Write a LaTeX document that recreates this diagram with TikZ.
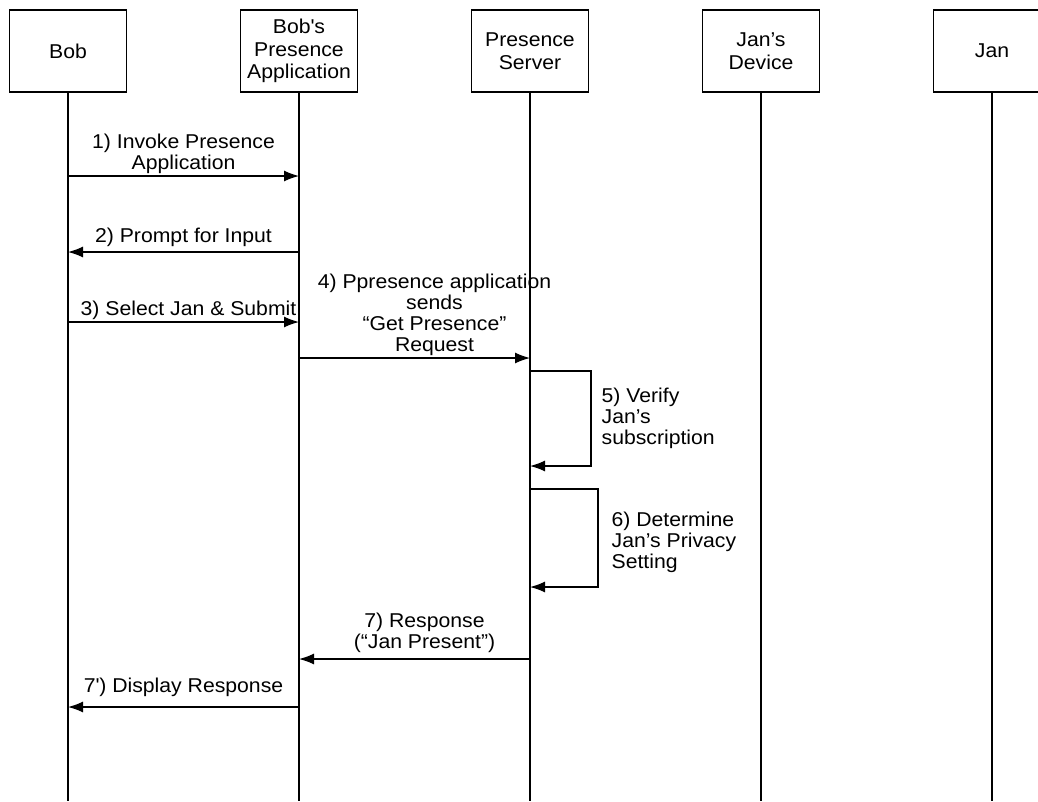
\documentclass[tikz,border=0pt]{standalone}
\usepackage{fontspec}
\setmainfont{Liberation Sans}[FakeStretch=1.06]
\usetikzlibrary{arrows.meta}
\tikzstyle{line} = [draw, line width=1.3pt, -{Latex[length=15pt,width=11pt]}]
\tikzstyle{life} = [draw, line width=1.3pt]
\tikzstyle{head} = [rectangle, draw, line width=1.3pt, minimum width=115pt, minimum height=82pt, text width=110pt, align=center, node distance=231pt, font=\fontsize{20}{22.5}\selectfont]
\tikzstyle{msg} = [align=center, inner sep=2pt, font=\fontsize{20}{21}\selectfont]

\begin{document}
\begin{tikzpicture}[x=1pt, y=1pt]
	\useasboundingbox (0,0) rectangle (1038,-801);

	\node [head] (bob) at (68,-51) {Bob};
	\node [head, right of=bob] (app) {Bob\textquotesingle s\\Presence\\Application};
	\node [head, right of=app] (server) {Presence\\Server};
	\node [head, right of=server] (device) {Jan’s\\Device};
	\node [head, right of=device] (jan) {Jan};

	% lifelines
	\coordinate (bottom) at (0,-801);
	\path [life] (bob.south) to (bob |- bottom);
	\path [life] (app.south) to (app |- bottom);
	\path [life] (server.south) to (server |- bottom);
	\path [life] (device.south) to (device |- bottom);
	\path [life] (jan.south) to (jan |- bottom);

	% message levels
	\coordinate (t1) at (0,-176);
	\coordinate (t2) at (0,-252);
	\coordinate (t3) at (0,-322);
	\coordinate (t4) at (0,-358);
	\coordinate (t5a) at (0,-371);
	\coordinate (t5b) at (0,-466);
	\coordinate (t6a) at (0,-489);
	\coordinate (t6b) at (0,-587);
	\coordinate (t7) at (0,-659);
	\coordinate (t8) at (0,-707);

	\path [line] (bob |- t1) to node [msg, above] (m1) {1) Invoke Presence\\Application} (app |- t1);
	\path [line] (app |- t2) to node [msg, above, yshift=3pt] (m2) {2) Prompt for Input} (bob |- t2);
	\path [line] (bob |- t3) to node [msg, above, xshift=5pt] (m3) {3) Select Jan \& Submit} (app |- t3);
	\path [line] (app |- t4) to node [msg, above, xshift=20pt] (m4) {4) Ppresence application\\sends\\“Get Presence”\\Request} (server |- t4);

	\path [line] (server |- t5a) -- ++(61,0) |- node [msg, pos=0.25, right, align=left, xshift=8pt] (m5) {5) Verify\\Jan’s\\subscription} (server |- t5b);
	\path [line] (server |- t6a) -- ++(68,0) |- node [msg, pos=0.25, right, align=left, xshift=11pt, yshift=-4pt] (m6) {6) Determine\\Jan’s Privacy\\Setting} (server |- t6b);

	\path [line] (server |- t7) to node [msg, above, xshift=10pt, yshift=4pt] (m7) {7) Response\\(“Jan Present”)} (app |- t7);
	\path [line] (app |- t8) to node [msg, above, yshift=8pt] (m8) {7\textquotesingle) Display Response} (bob |- t8);
\end{tikzpicture}
\end{document}
